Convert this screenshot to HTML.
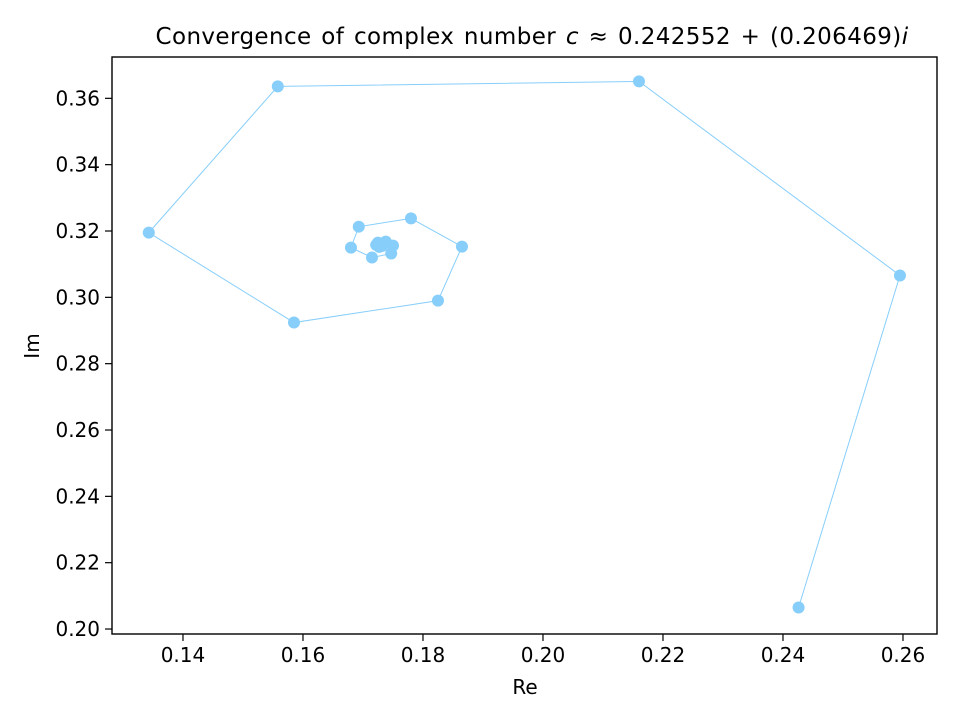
<!DOCTYPE html>
<html><head><meta charset="utf-8"><style>
html,body{margin:0;padding:0;background:#fff;}
svg{display:block;font-family:"DejaVu Sans","Liberation Sans",sans-serif;}
</style></head><body>
<svg id="chart" width="960" height="720">
<rect width="960" height="720" fill="#fff"/>
<g id="plot"></g>
<text x="532" y="44" text-anchor="middle" font-size="23" letter-spacing="0.4" word-spacing="2" fill="#000">Convergence of complex number <tspan font-style="italic">c</tspan> ≈ 0.242552 + (0.206469)<tspan font-style="italic">i</tspan></text>
<text x="525" y="694" text-anchor="middle" font-size="20" fill="#000">Re</text>
<text transform="translate(39,346) rotate(-90)" text-anchor="middle" font-size="20" fill="#000">Im</text>
</svg>
<script>
const re = [0.2426,0.2595,0.2160,0.1558,0.1343,0.1585,0.1825,0.1865,0.1780,0.1693,0.1680,0.1715,0.1747,0.1750,0.1738,0.1725,0.1722,0.1727,0.1732,0.1730,0.1729];
const im = [0.2065,0.3066,0.3651,0.3636,0.3195,0.2924,0.2990,0.3153,0.3238,0.3213,0.3150,0.3120,0.3132,0.3156,0.3168,0.3165,0.3158,0.3152,0.3155,0.3158,0.3156];
const xTicks = [0.14,0.16,0.18,0.20,0.22,0.24,0.26];
const yTicks = [0.20,0.22,0.24,0.26,0.28,0.30,0.32,0.34,0.36];

const L=112,R=937,T=57,B=634;
const xMin=0.12817,xMax=0.26567,yMin=0.19850,yMax=0.37246;
function sx(v){return L+(v-xMin)/(xMax-xMin)*(R-L);}
function sy(v){return B-(v-yMin)/(yMax-yMin)*(B-T);}
const NS="http://www.w3.org/2000/svg";
const g=document.getElementById('plot');
function mk(t,a){const e=document.createElementNS(NS,t);for(const k in a)e.setAttribute(k,a[k]);g.appendChild(e);return e;}

const pts=re.map((v,i)=>sx(v).toFixed(2)+','+sy(im[i]).toFixed(2)).join(' ');
const line=mk('polyline',{points:pts,fill:'none',stroke:'#87cefa','stroke-width':1});


re.forEach((v,i)=>{
  const c=mk('circle',{cx:sx(v),cy:sy(im[i]),r:6,fill:'#87cefa'});
  
  
});
const frame=mk('rect',{x:L,y:T,width:R-L,height:B-T,fill:'none',stroke:'#000','stroke-width':1.4});


xTicks.forEach(v=>{
  const x=sx(v);
  const t=mk('line',{x1:x,x2:x,y1:B,y2:B+7,stroke:'#000','stroke-width':1.2});
  
  
  const l=mk('text',{x:x,y:B+28,'text-anchor':'middle','font-size':20,fill:'#000'});
  l.textContent=v.toFixed(2);
  
  
});
yTicks.forEach(v=>{
  const y=sy(v);
  const t=mk('line',{x1:L-7,x2:L,y1:y,y2:y,stroke:'#000','stroke-width':1.2});
  
  
  const l=mk('text',{x:L-12,y:y+7,'text-anchor':'end','font-size':20,fill:'#000'});
  l.textContent=v.toFixed(2);
  
  
});
</script>
</body></html>
